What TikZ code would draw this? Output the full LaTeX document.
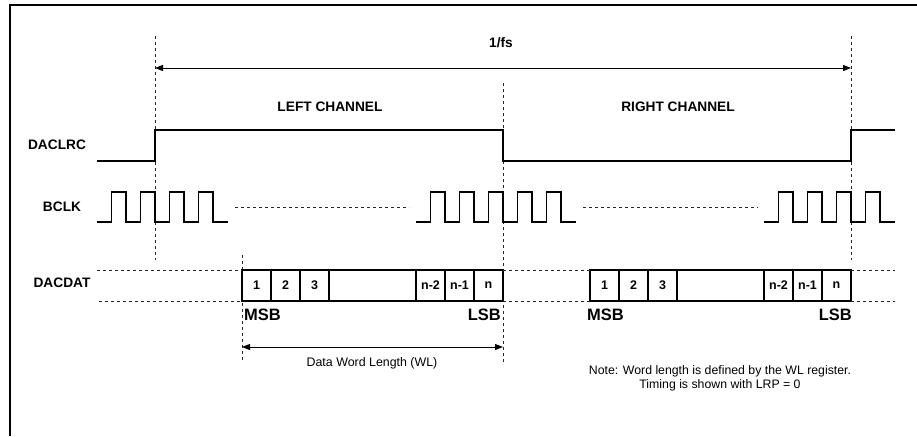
\documentclass[tikz,border=0pt]{standalone}
\usepackage{fontspec}
\setmainfont{Liberation Sans}
\usetikzlibrary{arrows.meta,positioning}

\begin{document}
\begin{tikzpicture}[x=1pt,y=-1pt]
\tikzstyle{sig}=[line width=1.2pt]
\tikzstyle{guide}=[dashed,line width=0.8pt,black!85]
\tikzstyle{lbl}=[font=\fontsize{13.7}{16}\selectfont\bfseries,inner sep=0pt]
\tikzstyle{bit}=[font=\fontsize{16.5}{18}\selectfont\bfseries,inner sep=0pt]
\tikzstyle{cell}=[draw,line width=1.2pt,minimum width=29pt,minimum height=31pt,inner sep=0pt,outer sep=0pt,font=\fontsize{12.5}{14}\selectfont\bfseries]
\tikzstyle{dim}=[line width=1pt,{Triangle[length=8pt,width=6pt]}-{Triangle[length=8pt,width=6pt]}]
\useasboundingbox (0,0) rectangle (917,436);
\draw[line width=1.4pt] (10,436) -- (10,5) -- (917,5);

% guides
\coordinate (g1t) at (155,36);  \coordinate (g1b) at (155,260);
\coordinate (g2t) at (503,83);  \coordinate (g2b) at (503,362);
\coordinate (g3t) at (851,36);  \coordinate (g3b) at (851,260);
\coordinate (g4t) at (242,255); \coordinate (g4b) at (242,362);
\foreach \g in {1,2,3,4} \draw[guide] (g\g t) -- (g\g b);

% labels
\node[lbl] (fs) at (501,43) {1/fs};
\node[lbl] (lch) at (330,107) {LEFT CHANNEL};
\node[lbl] (rch) at (678,107) {RIGHT CHANNEL};
\node[lbl] (lrc) at (57,145) {DACLRC};
\node[lbl] (bclk) at (62,207) {BCLK};
\node[lbl] (dat) at (62,283) {DACDAT};

\draw[dim] (g1t |- 0,68) -- (g3t |- 0,68);

% DACLRC
\draw[sig] (97,161) -- (155,161) -- (155,130) -- (503,130) -- (503,161) -- (851,161) -- (851,130) -- (895,130);

% BCLK
\draw[sig] (97,222) foreach \r in {111.5,140.5,169.5,198.5} { -- (\r,222) -- (\r,192) -- (\r+14.5,192) -- (\r+14.5,222) } -- (228,222);
\draw[sig] (416,222) foreach \r in {430.5,459.5,488.5,517.5,546.5} { -- (\r,222) -- (\r,192) -- (\r+14.5,192) -- (\r+14.5,222) } -- (576,222);
\draw[sig] (764,222) foreach \r in {778.5,807.5,836.5,865.5} { -- (\r,222) -- (\r,192) -- (\r+14.5,192) -- (\r+14.5,222) } -- (895,222);
\draw[guide] (235,207) -- (409,207);
\draw[guide] (583,207) -- (758,207);

% DACDAT words
\node[cell,anchor=west] (l1) at (242,285.5) {1};
\node[cell,right=0pt of l1] (l2) {2};
\node[cell,right=0pt of l2] (l3) {3};
\node[cell,right=0pt of l3,minimum width=87pt] (l4) {};
\node[cell,right=0pt of l4] (l5) {n-2};
\node[cell,right=0pt of l5] (l6) {n-1};
\node[cell,right=0pt of l6] (l7) {n};

\node[cell,anchor=west] (r1) at (590,285.5) {1};
\node[cell,right=0pt of r1] (r2) {2};
\node[cell,right=0pt of r2] (r3) {3};
\node[cell,right=0pt of r3,minimum width=87pt] (r4) {};
\node[cell,right=0pt of r4] (r5) {n-2};
\node[cell,right=0pt of r5] (r6) {n-1};
\node[cell,right=0pt of r6] (r7) {n};

\draw[guide] (97,270) -- (l1.north west);
\draw[guide] (99,301) -- (l1.south west);
\draw[guide] (l7.north east) -- (r1.north west);
\draw[guide] (l7.south east) -- (r1.south west);
\draw[guide] (r7.north east) -- (895,270);
\draw[guide] (r7.south east) -- (895,301);

\node[bit,anchor=west] (msbl) at (244,315) {MSB};
\node[bit,anchor=east] (lsbl) at (501,315) {LSB};
\node[bit,anchor=west] (msbr) at (587,315) {MSB};
\node[bit,anchor=east] (lsbr) at (852,315) {LSB};

\draw[dim] (g4t |- 0,347) -- (g2t |- 0,347);
\node[font=\fontsize{12.4}{14}\selectfont] (wl) at (372,363) {Data Word Length (WL)};
\node[font=\fontsize{12.3}{14}\selectfont,align=center] (note) at (720,378) {Note: Word length is defined by the WL register.\\Timing is shown with LRP = 0};
\end{tikzpicture}
\end{document}
